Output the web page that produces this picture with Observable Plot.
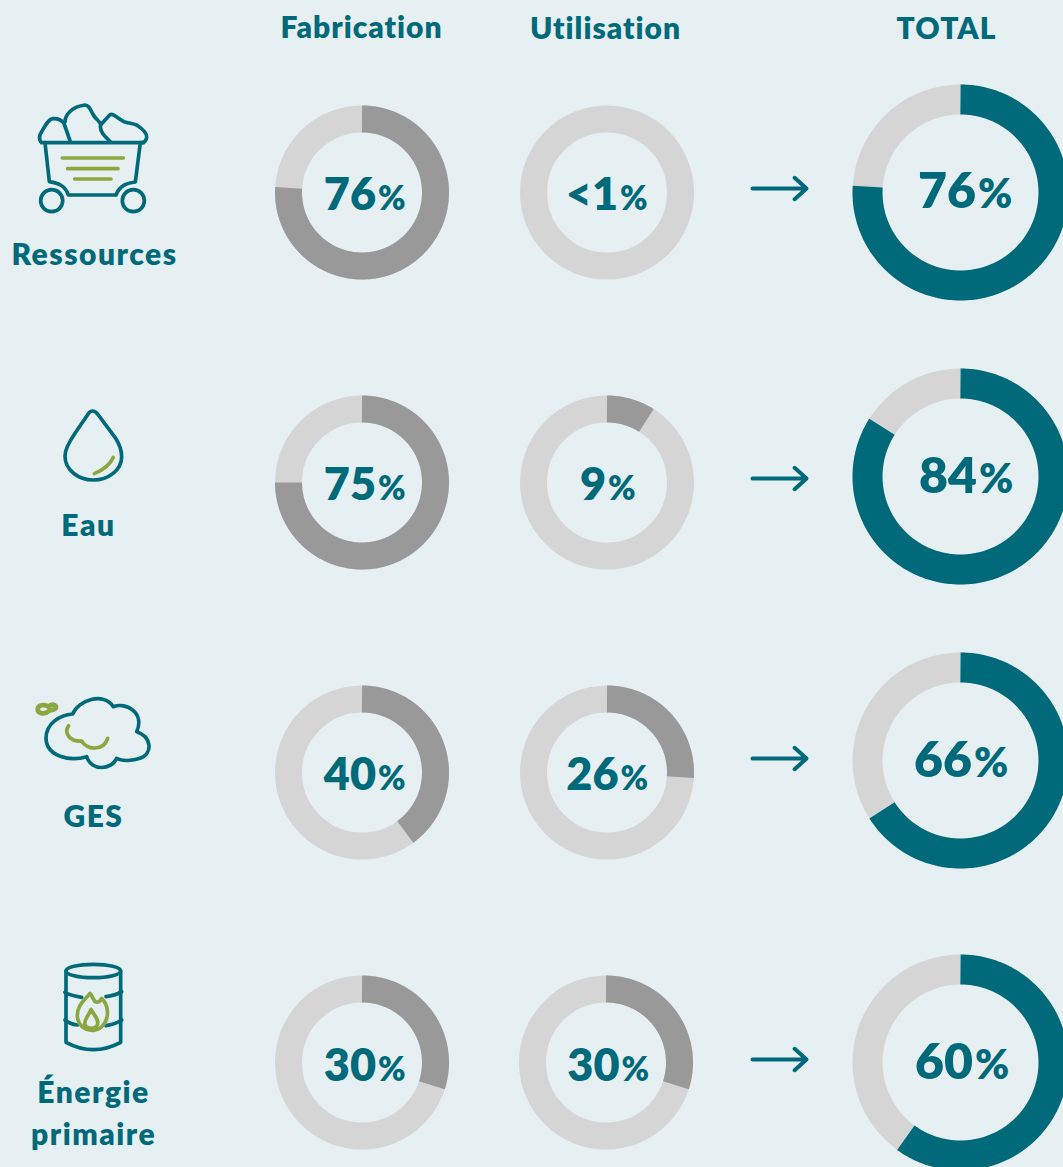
<!DOCTYPE html>
<html lang="fr">
<head>
<meta charset="utf-8">
<style>
html,body{margin:0;padding:0;background:#e6eff2;overflow:hidden}
svg{display:block}
</style>
<script src="https://cdn.jsdelivr.net/npm/d3@7"></script>
<script src="https://cdn.jsdelivr.net/npm/@observablehq/plot@0.6"></script>
</head>
<body>
<script>
// ---- chart values ----
const headers = ["Fabrication", "Utilisation", "TOTAL"];
const categories = ["Ressources", "Eau", "GES", "Énergie primaire"];
const fabrication = [76, 75, 40, 30];
const utilisation = [0, 9, 26, 30]; // first one is "<1": no visible slice in the picture
const total = [76, 84, 66, 60];
const fabricationLabels = ["76", "75", "40", "30"];
const utilisationLabels = ["<1", "9", "26", "30"];
const totalLabels = ["76", "84", "66", "60"];

// ---- layout and style, kept apart from the values ----
const W = 1063, H = 1167;
const BG = "#e6eff2", TEAL = "#006a7a", GREEN = "#8aa83f", LIGHT = "#d5d5d5", GREY = "#999999";
const FONT = "Lato, sans-serif";
const smallRing = {r: 73.5, width: 27};
const bigRing = {r: 93, width: 30};
const layout = {
  fabrication: {cx: [361.5, 361.5, 361.5, 361.5], cy: [192, 482, 772, 1062], split: [375.5, 375.5, 375.5, 375.5], base: [209, 499, 789, 1080]},
  utilisation: {cx: [606.5, 606.5, 606.5, 605.5], cy: [192, 482, 772, 1062], split: [617.5, 605.5, 618, 619], base: [209, 499, 789, 1080]},
  total: {cx: [960, 960, 960, 960], cy: [192, 476, 760, 1062], split: [975.5, 976.5, 971.5, 972.5], base: [207, 492, 776, 1078]}
};
const arrowY = [188, 478, 758, 1059];
const headerAt = [{x: 361, y: 37}, {x: 605, y: 38}, {x: 946, y: 38}];
const categoryText = [
  {t: "Ressources", x: 94, y: 264},
  {t: "Eau", x: 88, y: 535},
  {t: "GES", x: 93, y: 826},
  {t: "Énergie", x: 93, y: 1102},
  {t: "primaire", x: 93, y: 1144}
];

function ring(values, labels, pos, ringStyle, color, digitSize, pctSize) {
  return values.map((v, i) => ({
    value: v, label: labels[i], cx: pos.cx[i], cy: pos.cy[i], split: pos.split[i], base: pos.base[i],
    r: ringStyle.r, width: ringStyle.width, color, digitSize, pctSize
  }));
}
const donuts = [
  ...ring(fabrication, fabricationLabels, layout.fabrication, smallRing, GREY, 45, 33),
  ...ring(utilisation, utilisationLabels, layout.utilisation, smallRing, GREY, 45, 33),
  ...ring(total, totalLabels, layout.total, bigRing, TEAL, 50, 41)
];
// an arc, sampled along its angle, for the part of each ring that holds the value
const arcs = donuts.flatMap((d, k) => {
  const end = d.value * 3.6;
  const angles = d3.range(0, end, 1);
  if (end > 0) angles.push(end);
  return angles.map(a => ({
    k, color: d.color, width: d.width,
    x: d.cx + d.r * Math.sin(a * Math.PI / 180),
    y: d.cy - d.r * Math.cos(a * Math.PI / 180)
  }));
});

// ---- icons, as path strings in a local 3x unit space ----
const icons = [
  {at: [0, 90], teal: [
    "M125 158H430M125 158C115 150 118 135 125 125C135 108 145 88 158 86C172 84 188 92 192 100L211 155",
    "M195 96C195 75 215 50 255 45C268 45 272 62 282 78C290 88 298 95 302 102C298 118 305 130 318 142L331 156",
    "M302 104L330 74C340 68 350 85 372 95C385 100 398 100 410 105C425 115 442 130 440 142C438 152 432 158 425 158",
    "M135 158L148 275C175 280 195 285 205 315H348C358 288 378 280 406 276L421 158",
    "M188 332a33 33 0 1 1 -66 0a33 33 0 1 1 66 0Z",
    "M433 332a33 33 0 1 1 -66 0a33 33 0 1 1 66 0Z"
  ], green: ["M187 204H370", "M203 236H354", "M224 267H333"]},
  {at: [20, 400], teal: [
    "M218 33C225 33 230 38 235 45L285 112C298 132 305 150 305 170C305 210 265 240 220 240C175 240 135 210 135 168C135 145 150 122 165 100L205 41C208 36 213 33 218 33Z"
  ], green: ["M280 172C270 195 250 210 223 221"]},
  {at: [20, 690], teal: [
    "M158 72C175 30 250 5 280 50C320 35 375 70 350 125C395 140 400 190 360 205C340 212 305 215 290 205C275 240 215 245 200 200C150 215 80 200 78 145C78 100 120 75 158 72Z"
  ], green: [
    "M146 107C130 130 150 155 185 153C200 180 250 185 263 145"
  ], heavy: [
    "M53 58C53 44 75 42 85 50C95 40 110 44 108 53C106 61 90 59 85 64C75 74 53 72 53 58Z"
  ]},
  {at: [20, 955], teal: [
    "M138 48a82 20 0 1 0 164 0a82 20 0 1 0 -164 0Z",
    "M138 48V262Q220 306 302 262V48",
    "M135 112Q150 122 185 127M258 125Q285 122 305 110M135 195Q150 207 172 210M258 212Q285 208 305 195"
  ], green: [
    "M210 115C195 135 170 150 172 185C175 215 200 228 220 226C250 222 265 195 262 165C260 150 250 135 245 130C240 140 232 143 225 140C218 130 215 120 210 115Z",
    "M213 163C205 185 190 195 195 210C200 222 225 225 232 210C238 195 222 180 213 163Z"
  ]}
];
function iconMark(icon) {
  return (index, {x, y}) => {
    const g = d3.create("svg:g")
      .attr("transform", `translate(${x(icon.at[0])},${y(icon.at[1])}) scale(${1 / 3})`)
      .attr("fill", "none").attr("stroke-width", 11)
      .attr("stroke-linecap", "round").attr("stroke-linejoin", "round");
    for (const d of icon.teal) g.append("path").attr("d", d).attr("stroke", TEAL);
    for (const d of icon.green) g.append("path").attr("d", d).attr("stroke", GREEN);
    for (const d of icon.heavy || []) g.append("path").attr("d", d).attr("stroke", GREEN).attr("stroke-width", 14);
    return g.node();
  };
}
const spaced = px => (i, s, v, d, c, next) => {
  const g = next(i, s, v, d, c);
  g.style.letterSpacing = px;
  return g;
};

const chart = Plot.plot({
  width: W, height: H,
  margin: 0,
  style: {background: BG, fontFamily: FONT},
  x: {domain: [0, W], range: [0, W], axis: null},
  y: {domain: [0, H], range: [0, H], axis: null},
  marks: [
    // rings
    ...[smallRing, bigRing].map(rs => Plot.dot(donuts.filter(d => d.r === rs.r), {
      x: "cx", y: "cy", r: rs.r, fill: "none", stroke: LIGHT, strokeWidth: rs.width
    })),
    // value arcs
    ...[smallRing, bigRing].map(rs => Plot.line(arcs.filter(d => d.width === rs.width), {
      x: "x", y: "y", z: "k", stroke: "color", strokeWidth: rs.width,
      strokeLinecap: "butt", strokeLinejoin: "round", curve: "linear"
    })),
    // ring labels, digits and a smaller % sign on one baseline
    ...[[45, 33], [50, 41]].flatMap(([ds, ps]) => {
      const sub = donuts.filter(d => d.digitSize === ds);
      return [
        Plot.text(sub, {x: "split", y: "base", text: "label", textAnchor: "end", lineAnchor: "bottom",
          fontSize: ds, fontWeight: 800, fill: TEAL}),
        Plot.text(sub, {x: "split", y: "base", text: () => "%", textAnchor: "start", lineAnchor: "bottom", dx: 2,
          fontSize: ps, fontWeight: 800, fill: TEAL})
      ];
    }),
    // arrows
    Plot.arrow(arrowY, {x1: () => 752, x2: () => 806, y1: d => d, y2: d => d,
      stroke: TEAL, strokeWidth: 4, headLength: 6, headAngle: 84, bend: 0}),
    // column headers
    Plot.text(headers, {x: (d, i) => headerAt[i].x, y: (d, i) => headerAt[i].y, text: d => d,
      textAnchor: "middle", lineAnchor: "bottom", fontSize: 30, fontWeight: 800, fill: TEAL, render: spaced("1px")}),
    // category names
    Plot.text(categoryText, {x: "x", y: "y", text: "t", textAnchor: "middle", lineAnchor: "bottom",
      fontSize: 30, fontWeight: 800, fill: TEAL, render: spaced("1.5px")}),
    // icons
    ...icons.map(iconMark)
  ]
});
document.body.append(chart);
</script>
</body>
</html>
